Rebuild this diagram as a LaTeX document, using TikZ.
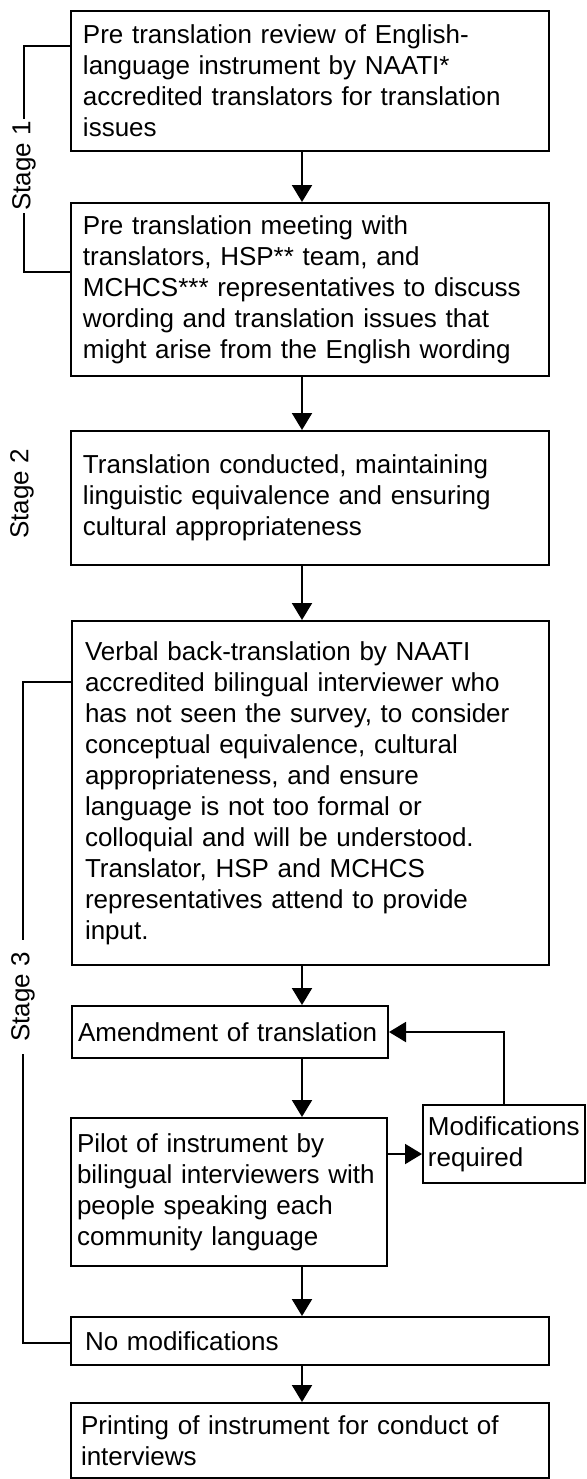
\documentclass[tikz,border=0pt]{standalone}
\usepackage{fontspec}
\setmainfont{Liberation Sans}
\usetikzlibrary{arrows.meta}
\begin{document}
\begin{tikzpicture}[x=0.5pt,y=-0.5pt,
  box/.style={draw, line width=1pt, rectangle, align=left, inner ysep=0pt,
    font=\fontsize{13pt}{15.5pt}\selectfont},
  arr/.style={draw, line width=1pt, -{Triangle[length=8.5pt,width=10pt]}},
  brk/.style={draw, line width=1pt},
  stagelbl/.style={rotate=90, fill=white, inner ysep=0pt,
    font=\fontsize{13pt}{15.5pt}\selectfont}]
\useasboundingbox (0,0) rectangle (586,1479);

\node[box, minimum width=239pt, minimum height=70pt, text width=227pt, inner xsep=6pt] (b1) at (310,81)
  {Pre translation review of English-\\language instrument by NAATI*\\accredited translators for translation\\issues};
\node[box, minimum width=239pt, minimum height=86.5pt, text width=227pt, inner xsep=6pt] (b2) at (310,289.5)
  {Pre translation meeting with\\translators, HSP** team, and\\MCHCS*** representatives to discuss\\wording and translation issues that\\might arise from the English wording};
\node[box, minimum width=239pt, minimum height=67pt, text width=227pt, inner xsep=6pt] (b3) at (310,498)
  {Translation conducted, maintaining\\linguistic equivalence and ensuring\\cultural appropriateness};
\node[box, minimum width=238.5pt, minimum height=172pt, text width=225.5pt, inner xsep=6.5pt] (b4) at (310.5,793)
  {Verbal back-translation by NAATI\\accredited bilingual interviewer who\\has not seen the survey, to consider\\conceptual equivalence, cultural\\appropriateness, and ensure\\language is not too formal or\\colloquial and will be understood.\\Translator, HSP and MCHCS\\representatives attend to provide\\input.};
\node[box, minimum width=158pt, minimum height=26pt, text width=152pt, inner xsep=3pt] (amend) at (230,1032)
  {Amendment of translation};
\node[box, minimum width=158pt, minimum height=74pt, text width=152pt, inner xsep=3pt] (pilot) at (229,1192)
  {Pilot of instrument by\\bilingual interviewers with\\people speaking each\\community language};
\node[box, minimum width=80.75pt, minimum height=39pt, inner xsep=2pt] (mod) at (503.75,1144)
  {Modifications\\required};
\node[box, minimum width=239pt, minimum height=24pt, text width=225pt, inner xsep=7pt] (nomod) at (310,1341)
  {No modifications};
\node[box, minimum width=239pt, minimum height=37.5pt, text width=229pt, inner xsep=5pt] (print) at (310,1440.5)
  {Printing of instrument for conduct of\\interviews};

% main arrows
\coordinate (ax) at (302,0);
\draw[arr] (b1.south -| ax) -- (b2.north -| ax);
\draw[arr] (b2.south -| ax) -- (b3.north -| ax);
\draw[arr] (b3.south -| ax) -- (b4.north -| ax);
\draw[arr] (b4.south -| ax) -- (amend.north -| ax);
\draw[arr] (amend.south -| ax) -- (pilot.north -| ax);
\draw[arr] (pilot.south -| ax) -- (nomod.north -| ax);
\draw[arr] (nomod.south -| ax) -- (print.north -| ax);
% feedback
\coordinate (pm) at (0,1154);
\draw[arr] (pilot.east |- pm) -- (mod.west |- pm);
\draw[arr] (mod.north) |- (amend.east);

% stage brackets
\coordinate (s1t) at (24,46);
\coordinate (s1b) at (24,272);
\draw[brk] (b1.west |- s1t) -- (s1t) -- (s1b) -- (b2.west |- s1b);
\node[stagelbl, inner xsep=1pt] (st1) at (24,166) {Stage 1};

\node[stagelbl, inner xsep=1pt] (st2) at (22,494) {Stage 2};

\coordinate (s3t) at (23,682);
\coordinate (s3b) at (23,1343);
\draw[brk] (b4.west |- s3t) -- (s3t) -- (s3b) -- (nomod.west |- s3b);
\node[stagelbl, inner xsep=6pt] (st3) at (23,997) {Stage 3};
\end{tikzpicture}
\end{document}
